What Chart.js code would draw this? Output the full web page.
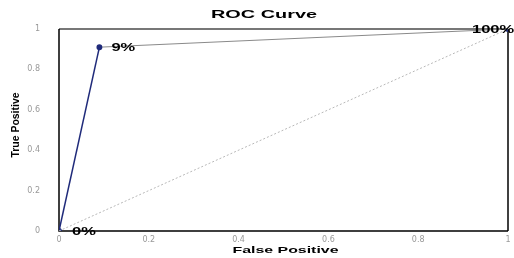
<!DOCTYPE html>
<html>
<head>
<meta charset="utf-8">
<script src="https://cdn.jsdelivr.net/npm/chart.js@4"></script>
<style>
  html, body { margin: 0; padding: 0; background: #fff; }
  #wrap { width: 514px; height: 258px; }
</style>
</head>
<body>
<div id="wrap"><canvas id="roc" width="514" height="258"></canvas></div>
<script>
// valeurs
const fpRate = [0, 0.09, 1];
const tpRate = [0, 0.91, 1];
const pointLabels = ['0%', '9%', '100%'];
const diagX = [0, 1];
const diagY = [0, 1];
const tickValues = [0, 0.2, 0.4, 0.6, 0.8, 1];
const titleText = 'ROC Curve';
const xTitleText = 'False Positive';
const yTitleText = 'True Positive';

const rocPoints = fpRate.map((x, i) => ({ x: x, y: tpRate[i] }));
const diagPoints = diagX.map((x, i) => ({ x: x, y: diagY[i] }));

// texte étiré horizontalement (l'image d'origine est déformée)
function drawStretched(ctx, text, cx, cy, width, font, rotate) {
    ctx.save();
    ctx.translate(cx, cy);
    if (rotate) ctx.rotate(-Math.PI / 2);
    ctx.font = font;
    const w = ctx.measureText(text).width;
    ctx.scale(width / w, 1);
    ctx.textAlign = 'center';
    ctx.textBaseline = 'middle';
    ctx.fillStyle = '#000';
    ctx.fillText(text, 0, 0);
    ctx.restore();
}

// cadre autour de la zone du graphe + titres + étiquettes des points
const framePlugin = {
    id: 'frame',
    beforeDatasetsDraw(chart) {
        const { ctx, chartArea: a } = chart;
        ctx.save();
        ctx.strokeStyle = '#777';
        ctx.lineWidth = 2;
        ctx.beginPath(); ctx.moveTo(a.left, a.top); ctx.lineTo(a.right, a.top); ctx.stroke();
        ctx.strokeStyle = '#000';
        ctx.lineWidth = 1.5;
        ctx.beginPath(); ctx.moveTo(a.right, a.top); ctx.lineTo(a.right, a.bottom); ctx.stroke();
        ctx.beginPath(); ctx.moveTo(a.left, a.top); ctx.lineTo(a.left, a.bottom); ctx.lineTo(a.right, a.bottom); ctx.stroke();
        ctx.restore();
    },
    afterDatasetsDraw(chart) {
        const { ctx, chartArea: a } = chart;
        drawStretched(ctx, titleText, 264, 15, 106, 'bold 10px Arial, "Liberation Sans", sans-serif');
        drawStretched(ctx, xTitleText, (a.left + a.right) / 2 + 2, 251, 106, 'bold 9px Arial, "Liberation Sans", sans-serif');
        drawStretched(ctx, yTitleText, 16, 125, 65, 'bold 11px Arial, "Liberation Sans", sans-serif', true);

        const meta = chart.getDatasetMeta(1);
        ctx.save();
        ctx.font = 'bold 11px Arial, "Liberation Sans", sans-serif';
        ctx.fillStyle = '#000';
        ctx.textBaseline = 'middle';
        meta.data.forEach((pt, i) => {
            let dx = 12;
            if (i === 0) dx = 13;
            if (i === pointLabels.length - 1) dx = -36;
            ctx.save();
            ctx.translate(pt.x + dx, pt.y + 1);
            ctx.scale(1.5, 1);
            ctx.fillText(pointLabels[i], 0, 0);
            ctx.restore();
        });
        ctx.restore();
    }
};

const config = {
    type: 'scatter',
    data: {
        datasets: [
            {
                label: 'Diagonal',
                data: diagPoints,
                showLine: true,
                borderColor: '#b8b8b8',
                borderWidth: 1,
                borderDash: [2, 2],
                pointRadius: 0
            },
            {
                label: 'ROC',
                data: rocPoints,
                showLine: true,
                borderColor: '#1f2a7a',
                borderWidth: 1.5,
                pointRadius: 2.2,
                pointBackgroundColor: '#1f2a7a',
                pointBorderColor: '#1f2a7a',
                segment: {
                    borderColor: c => c.p0DataIndex === 1 ? '#8a8a8a' : '#1f2a7a',
                    borderWidth: c => c.p0DataIndex === 1 ? 1 : 1.5
                }
            }
        ]
    },
    options: {
        responsive: false,
        animation: false,
        layout: { padding: { top: 29, right: 6, left: 0, bottom: 0 } },
        plugins: {
            legend: { display: false },
            tooltip: { enabled: false },
            title: { display: false }
        },
        scales: {
            x: {
                type: 'linear',
                min: 0,
                max: 1,
                afterBuildTicks: s => { s.ticks = tickValues.map(v => ({ value: v })); },
                afterFit: s => { s.height = 27; },
                grid: { display: false, drawTicks: true, tickLength: 3, tickColor: '#000' },
                border: { display: false },
                ticks: {
                    color: '#999',
                    padding: 1,
                    font: { family: '"DejaVu Sans", sans-serif', size: 8 },
                    callback: v => String(v)
                }
            },
            y: {
                type: 'linear',
                min: 0,
                max: 1,
                afterBuildTicks: s => { s.ticks = tickValues.map(v => ({ value: v })); },
                afterFit: s => { s.width = 59; },
                grid: { display: false, drawTicks: true, tickLength: 4, tickColor: '#000' },
                border: { display: false },
                ticks: {
                    color: '#999',
                    padding: 15,
                    font: { family: '"DejaVu Sans", sans-serif', size: 8 },
                    callback: v => String(v)
                }
            }
        }
    },
    plugins: [framePlugin]
};

const rocChart = new Chart(document.getElementById('roc'), config);
</script>
</body>
</html>
